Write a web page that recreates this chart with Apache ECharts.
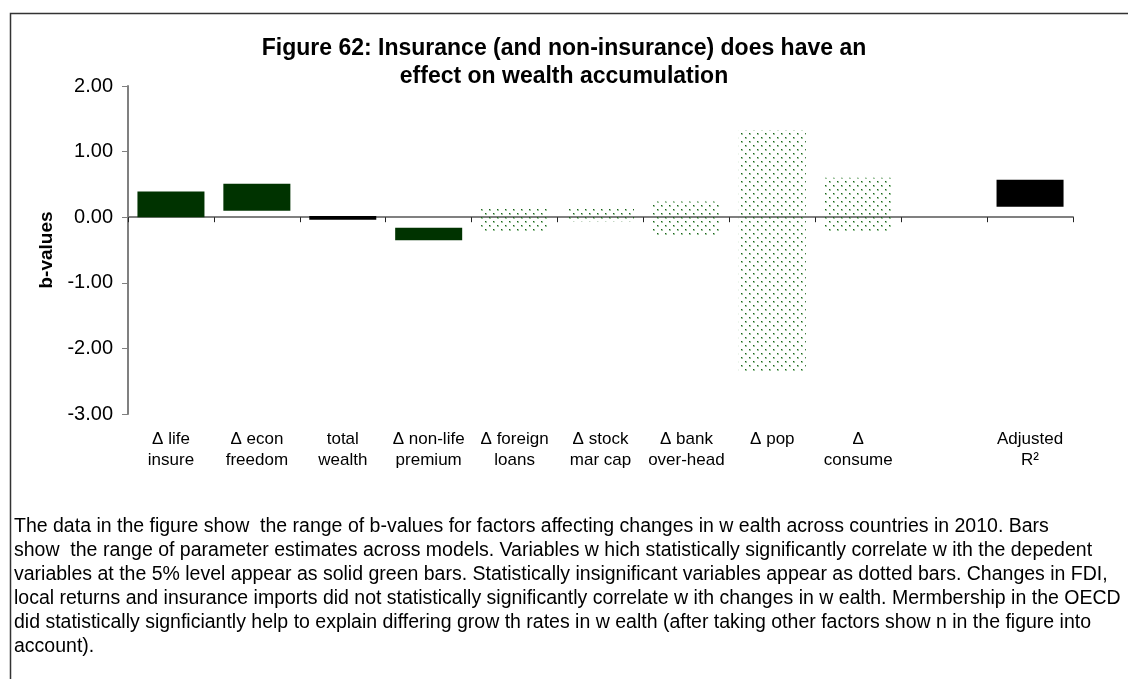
<!DOCTYPE html>
<html>
<head>
<meta charset="utf-8">
<script src="https://cdn.jsdelivr.net/npm/echarts@6/dist/echarts.min.js"></script>
<style>
  html, body { margin: 0; padding: 0; background: #fff; }
  #chart { width: 1128px; height: 679px; }
</style>
</head>
<body>
<div id="chart"></div>
<script>
// ---- data ----
const categories = ['Δ life\ninsure', 'Δ econ\nfreedom', 'total\nwealth', 'Δ non-life\npremium',
  'Δ foreign\nloans', 'Δ stock\nmar cap', 'Δ bank\nover-head', 'Δ pop', 'Δ\nconsume', '', 'Adjusted\nR²'];
const lowValues  = [0.00, 0.10, -0.04, -0.35, -0.24, -0.06, -0.29, -2.35, -0.24, null, 0.16];
const highValues = [0.39, 0.51,  0.02, -0.16,  0.13,  0.13,  0.24,  1.32,  0.60, null, 0.57];
const barKinds   = ['solid', 'solid', 'black', 'solid', 'dotted', 'dotted', 'dotted', 'dotted', 'dotted', 'none', 'black'];
const titleLines = ['Figure 62: Insurance (and non-insurance) does have an', 'effect on wealth accumulation'];
const captionLines = [
  'The data in the figure show  the range of b-values for factors affecting changes in w ealth across countries in 2010. Bars',
  'show  the range of parameter estimates across models. Variables w hich statistically significantly correlate w ith the depedent',
  'variables at the 5% level appear as solid green bars. Statistically insignificant variables appear as dotted bars. Changes in FDI,',
  'local returns and insurance imports did not statistically significantly correlate w ith changes in w ealth. Mermbership in the OECD',
  'did statistically signficiantly help to explain differing grow th rates in w ealth (after taking other factors show n in the figure into',
  'account).'
];

// dotted pattern (transparent background so the zero line shows through)
function makeDots() {
  const c = document.createElement('canvas');
  c.width = 8; c.height = 8;
  const g = c.getContext('2d');
  g.fillStyle = 'rgba(60,140,60,0.5)';
  g.fillRect(1, 1, 2, 2); g.fillRect(5, 5, 2, 2);
  g.fillStyle = 'rgba(20,90,20,0.95)';
  g.fillRect(1, 1, 1, 1); g.fillRect(5, 5, 1, 1);
  return c;
}
const dotPattern = { image: makeDots(), repeat: 'repeat' };
const fills = { solid: '#003300', black: '#000000', dotted: dotPattern };

const seriesData = [];
categories.forEach((c, i) => {
  if (lowValues[i] !== null) seriesData.push([i, lowValues[i], highValues[i], barKinds[i]]);
});

const font = '"Liberation Sans", Arial, sans-serif';
const chart = echarts.init(document.getElementById('chart'), null, { renderer: 'canvas' });
chart.setOption({
  animation: false,
  backgroundColor: '#ffffff',
  title: {
    text: titleLines.join('\n'),
    left: 'center',
    top: 30,
    textStyle: { fontFamily: font, fontSize: 23, fontWeight: 'bold', color: '#000', lineHeight: 28 }
  },
  grid: { left: 128, right: 55, top: 86, bottom: 265, containLabel: false },
  xAxis: [
    {
      type: 'category', data: categories, position: 'bottom',
      axisLine: { show: false, onZero: false }, axisTick: { show: false },
      axisLabel: { interval: 0, fontFamily: font, fontSize: 17, color: '#000', lineHeight: 21, margin: 15 }
    },
    {
      type: 'category', data: categories, position: 'bottom',
      axisLine: { show: true, onZero: true, lineStyle: { color: '#808080', width: 2 } },
      axisTick: { show: true, length: 5, lineStyle: { color: '#222', width: 1 } },
      axisLabel: { show: false }
    }
  ],
  yAxis: {
    type: 'value', min: -3, max: 2, interval: 1,
    name: 'b-values', nameLocation: 'middle', nameRotate: 90, nameGap: 72,
    nameTextStyle: { fontFamily: font, fontSize: 19, fontWeight: 'bold', color: '#000' },
    axisLine: { show: true, lineStyle: { color: '#808080', width: 2 } },
    axisTick: { show: true, length: 6, lineStyle: { color: '#808080', width: 1 } },
    axisLabel: { fontFamily: font, fontSize: 20, color: '#000', margin: 15, formatter: v => v.toFixed(2) },
    splitLine: { show: false }
  },
  graphic: [
    { type: 'rect', left: 8, top: 11, z: -1, silent: true,
      shape: { width: 1200, height: 700 }, style: { fill: 'none', stroke: '#333', lineWidth: 1.5 } },
    { type: 'text', left: 14, top: 515, silent: true,
      style: { text: captionLines.join('\n'), fontFamily: font, fontSize: 19.5, lineHeight: 24, fill: '#000' } }
  ],
  series: [{
    type: 'custom',
    xAxisIndex: 0, yAxisIndex: 0,
    data: seriesData,
    encode: { x: 0, y: [1, 2] },
    renderItem: function (params, api) {
      const idx = api.value(0);
      const lo = api.value(1), hi = api.value(2);
      const kind = seriesData[params.dataIndex][3];
      const top = api.coord([idx, hi]);
      const bot = api.coord([idx, lo]);
      const w = api.size([1, 0])[0] * 0.78;
      return {
        type: 'rect',
        shape: { x: top[0] - w / 2, y: top[1], width: w, height: Math.max(bot[1] - top[1], 1) },
        style: { fill: fills[kind] }
      };
    }
  }]
});
</script>
</body>
</html>
